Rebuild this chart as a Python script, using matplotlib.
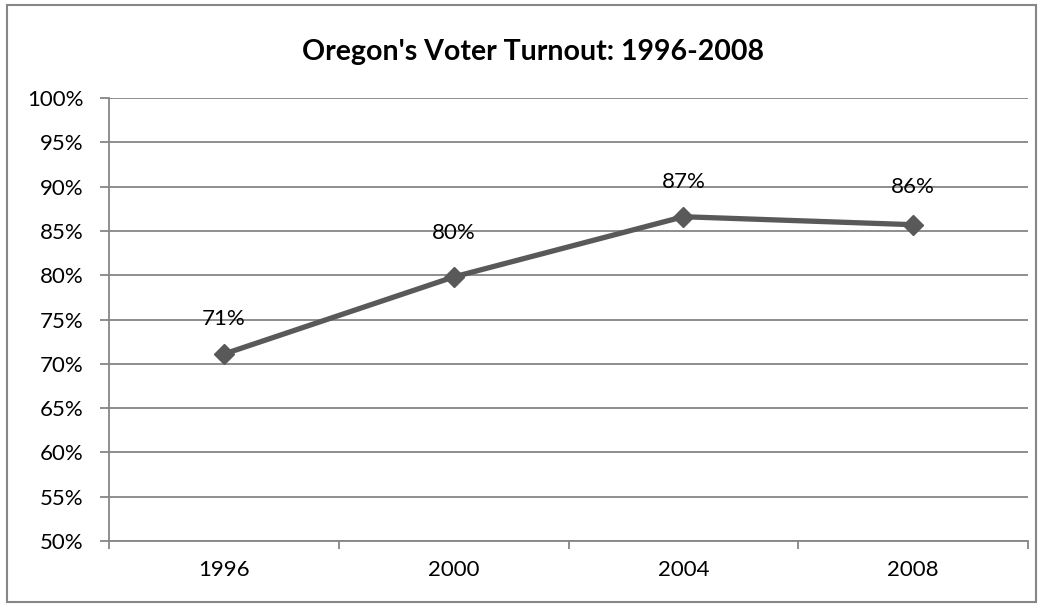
import matplotlib
matplotlib.use("Agg")
import matplotlib.pyplot as plt
from matplotlib.patches import Rectangle
from matplotlib.ticker import MultipleLocator, FuncFormatter, FixedLocator, NullFormatter

years = ["1996", "2000", "2004", "2008"]
turnout = [71.1, 79.8, 86.6, 85.7]
title = "Oregon's Voter Turnout: 1996-2008"

plt.rcParams['font.family'] = ['Lato', 'DejaVu Sans']

W, H = 1044, 605
fig = plt.figure(figsize=(W / 100, H / 100), dpi=100)
ax = fig.add_axes([109 / W, 1 - 541 / H, (1028 - 109) / W, (541 - 98) / H])

# outer chart border
fig.patches.append(Rectangle((7 / W, 3 / H), (1036 - 7) / W, (600 - 3) / H,
                             transform=fig.transFigure, fill=False,
                             edgecolor="#868686", linewidth=1.5))

x = list(range(len(years)))
ax.plot(x, turnout, color="#595959", linewidth=3.8, marker="D",
        markersize=10, markerfacecolor="#595959", markeredgecolor="#595959",
        zorder=3, clip_on=False)

offsets = [25, 32, 25, 27]
for xi, v, off in zip(x, turnout, offsets):
    ax.annotate(f"{round(v):d}%", (xi, v), xytext=(0, off),
                textcoords="offset points", ha="center", va="center",
                fontsize=16, color="black")

ax.set_ylim(50, 100)
ax.set_xlim(-0.5, 3.5)
ax.yaxis.set_major_locator(MultipleLocator(5))
ax.yaxis.set_major_formatter(FuncFormatter(lambda v, p: f"{int(v)}%"))
ax.grid(axis="y", color="#868686", linewidth=1.3)
ax.set_axisbelow(True)

ax.xaxis.set_major_locator(FixedLocator([-0.5, 0.5, 1.5, 2.5, 3.5]))
ax.xaxis.set_major_formatter(NullFormatter())
ax.xaxis.set_minor_locator(FixedLocator(x))
ax.set_xticklabels(years, minor=True)
ax.tick_params(axis="x", which="minor", length=0, pad=14, labelsize=16)
ax.tick_params(axis="x", which="major", length=6, width=1.3, color="#868686",
               direction="out")
ax.tick_params(axis="y", length=6.5, width=1.3, color="#868686", pad=12,
               labelsize=16)

for side in ("top", "right"):
    ax.spines[side].set_visible(False)
for side in ("left", "bottom"):
    ax.spines[side].set_color("#868686")
    ax.spines[side].set_linewidth(1.3)

fig.text(533 / W, 1 - 52 / H, title, ha="center", va="center",
         fontsize=20.5, fontweight="bold")

fig.savefig("out.png", dpi=100)
